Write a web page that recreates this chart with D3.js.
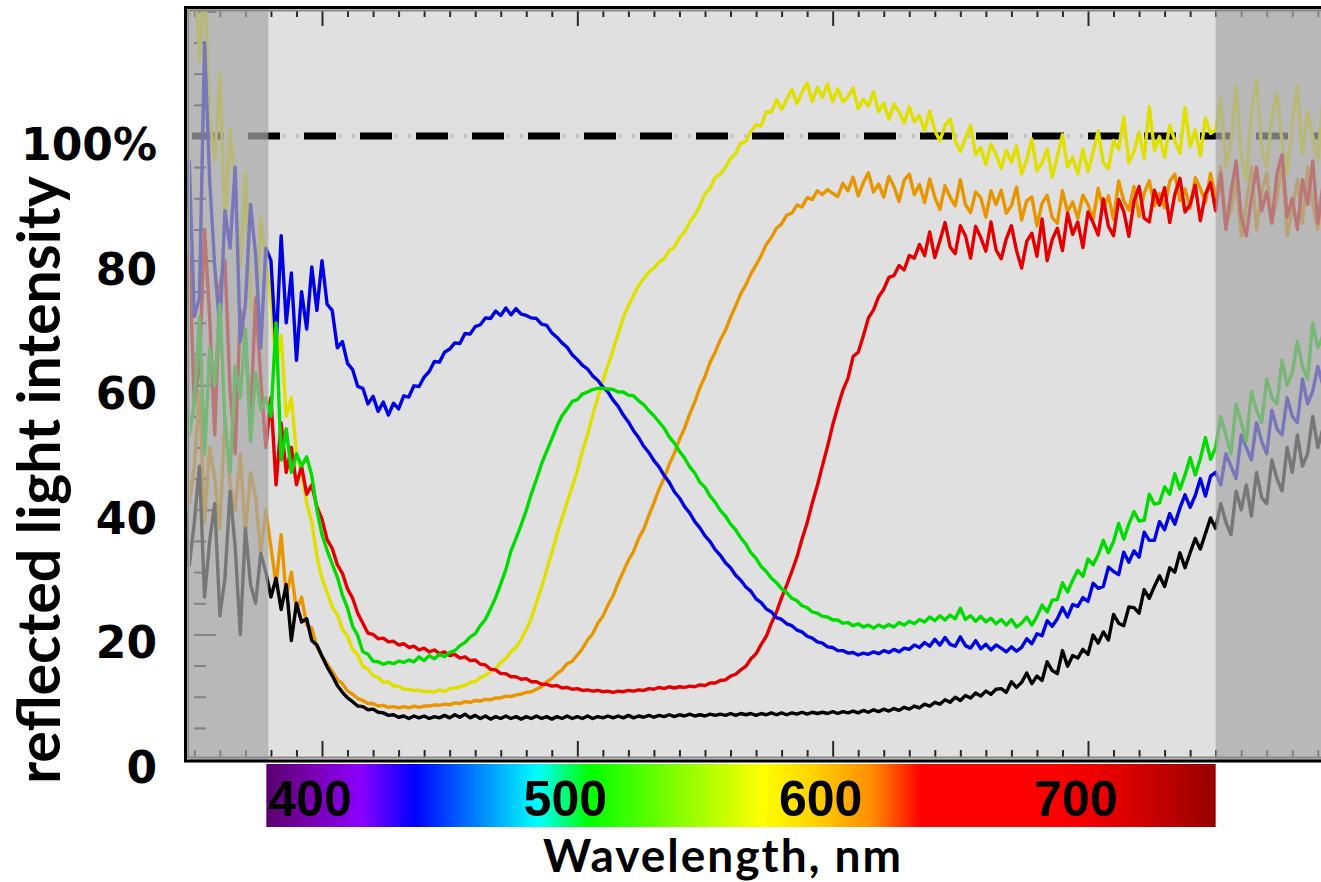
<!DOCTYPE html>
<html>
<head>
<meta charset="utf-8">
<script src="https://cdn.jsdelivr.net/npm/d3@7"></script>
<style>
  html, body { margin: 0; padding: 0; background: #fff; }
  svg { display: block; }
</style>
</head>
<body>
<div id="chart"></div>
<script>
// sampled every 2 nm from 346 to 792 nm (224 samples per series)
var wavelengths = d3.range(346, 793, 2);

var blue = [
  84,96,71,74,115,93,79,69,88,82,95,67,73,89,81,66,
  82,80,66,84,70,78,64,75,69,79,72,80,73,72,66,67,
  63.5,62.5,59.8,59.5,57,58.2,55.8,57.3,55.2,57.1,56.2,58.3,58.1,59.9,59.8,61.3,
  62.2,63.8,63.7,65.3,65.8,66.8,66.7,68.3,68.2,69.4,69.7,70.8,70.7,71.9,71.2,72.4,
  71.3,72.3,71.4,71.2,70.8,70.7,69.8,69.6,68.4,67.7,66.8,66.1,64.9,64.1,63.2,62.6,
  61.5,60.8,59.7,58.9,57.6,56.6,55.2,54.1,52.7,51.6,50.2,49.2,47.9,46.9,45.5,44.4,
  42.9,41.9,40.5,39.5,38.1,37.1,35.8,34.9,33.6,32.7,31.5,30.7,29.5,28.7,27.6,26.9,
  25.7,25.1,24.1,23.6,22.7,22.4,21.7,21.4,20.7,20.4,19.7,19.4,18.8,18.6,18,17.9,
  17.4,17.4,17,17.1,16.7,17,16.8,17.2,16.9,17.4,17.1,17.6,17.2,17.8,17.6,18.3,
  17.9,18.7,18.1,19.2,18.3,19.5,18.4,18.1,19.6,18.2,17.8,19,17.7,18.4,17.5,18.3,
  17.8,17.2,18,17.3,17.9,19.3,18.5,20.1,19.8,22.2,21.3,22.5,24.3,22.8,24.8,24.5,
  25.9,25.3,28.2,27.4,27.7,30.8,30.1,29.6,33.2,31.6,33.4,32.4,36.4,35.1,35.1,38.1,
  36.8,39.4,37.7,40.3,42.4,40.4,42.3,45,42.2,45.4,46,44,49,47,45,52,
  50,48,54,51,49,56,53,52,58,55,54,61,57,59,63,60
];

var green = [
  64,52,57,71,49,66,60,73,54,46,63,58,69,51,62,56,
  58,55,70,48,53,46,49,47,48.5,45.5,40,36,33.5,31.3,29.2,26.3,
  24.2,21.3,19.8,17.2,16.8,15.7,15.6,15.2,15.5,15.3,15.7,15.5,15.9,15.6,16.4,15.8,
  16.6,16.1,16.8,16.4,17.1,17.4,18.2,18.7,19.6,20.1,21.4,22.4,24.1,25.9,28.1,30.4,
  33.4,35.4,37.6,39.9,42.6,44.9,47.4,49.4,51.4,53.4,55.1,56.2,57.4,57.7,58.6,58.9,
  59.3,59.5,59.5,59.4,59.3,58.9,58.9,58.4,58.3,57.5,56.9,55.9,55.1,54.1,53.1,51.7,
  50.7,49.4,48.3,46.9,45.9,44.4,43.6,42.2,41.2,39.9,39,37.7,36.8,35.5,34.5,33.1,
  32.2,30.9,30.1,29,28.3,27.3,26.7,25.8,25.4,24.6,24.3,23.6,23.4,22.9,22.8,22.3,
  22.3,21.8,21.9,21.4,21.7,21.2,21.5,21,21.5,21.1,21.6,21.2,21.9,21.5,22.1,21.7,
  22.4,22,22.8,22.2,23,22.3,23.1,22.5,24.2,22.4,23,22.1,22.9,22,22.6,21.7,
  22.4,21.5,22.4,21.2,21.8,22.8,21.5,22.9,24.7,23.6,25.5,25.6,28.3,26.8,28.7,30.3,
  29.3,32.1,31.2,32.8,35.1,33.1,34.9,37.8,35.3,37.7,39.7,38.2,38.3,42.5,40.9,41.1,
  43.7,42.5,45.8,43.3,45.6,48.4,45.6,48.2,51.6,48.1,50,55,52,49,57,54,
  51,59,56,54,61,58,57,64,60,62,67,63,61,70,66,68
];

var yellow = [
  125,119,128,112,126,103,96,110,86,101,92,79,94,73,70,87,
  80,74,63,68,55,58,49,46,41,38,32.5,29,26.8,24.4,23.2,20.8,
  19.7,17.6,16.7,14.9,14.4,13.4,13.1,12.3,12.4,11.7,11.7,11.2,11.2,11,11,10.8,
  10.9,10.7,11.1,10.8,11.3,11.4,11.6,11.8,12.3,12.4,13.1,13.4,14.1,14.5,15.5,16.1,
  17.2,17.9,19.2,20.8,22.6,25.2,27.6,30.4,33.1,36,38.6,41.3,43.7,46.3,49.4,52.1,
  55.2,58,60.8,63.2,65.6,68.3,70.9,72.8,74.4,76,77.1,78.2,78.8,79.8,80.3,81.6,
  82.2,83.7,84.6,86.2,87.3,88.8,90.7,91.6,93.4,93.9,95,96.4,97.2,98.9,99.1,100.8,
  101.8,101.6,103.9,103.8,105.8,104.3,105.9,107.5,105.2,107,108.5,105.5,107.8,106.2,108.4,105.5,
  107.6,105.5,106.3,107.7,104.4,105.9,104.8,107.1,103.9,105.3,102.7,105.1,103.9,102.1,104.7,102.3,
  103.3,100.8,104,100.9,99.2,101.7,102.7,99.2,97.5,99.7,101.7,97,98.2,95.4,98.7,97,
  94.8,97.7,95.8,98.4,93.9,96.2,99.5,94.4,95.7,97.9,93.4,96.8,100.2,95,96.6,93.9,
  97.9,94.3,97.4,100.8,95.7,94.8,99.3,97.9,103.1,95.7,97.5,100.6,96.4,104.7,97.7,99.9,
  96.6,101.7,99.3,97.2,104.6,98.3,101,96.8,102.9,100.4,101,106,95,99,108,97,
  93,104,109,98,95,103,107,99,94,102,108,97,104,100,96,106
];

var orange = [
  54,41,47,59,38,50,45,37,55,44,40,49,36,46,42,33,
  40,34,28,36,26,30,24,26,21.5,21,18,16.5,15.3,14.1,12.7,12.1,
  10.9,10.4,9.7,9.4,8.9,8.9,8.5,8.6,8.3,8.4,8.2,8.4,8.2,8.5,8.3,8.5,
  8.5,8.7,8.6,8.8,8.7,9,8.9,9.2,9.1,9.4,9.3,9.6,9.5,9.8,9.8,10.1,
  10,10.3,10.4,10.7,10.8,11.2,11.6,12.4,12.9,13.7,14.3,15.3,15.7,16.7,17.7,19.1,
  20.1,21.8,22.9,24.7,26.2,28.3,30.1,31.9,33.3,35.4,36.9,39.1,41.1,43.3,45.1,47.3,
  49.1,51.3,53.1,55.4,57.3,59.6,61.4,63.7,65.3,67.3,68.8,70.9,72.7,74.7,76.1,77.9,
  79.3,80.8,82.6,83.7,85.2,85.9,87.3,87.6,88.9,88.6,90.1,89.8,91.2,90.6,91.4,90.8,
  90.3,92.4,91.2,93.4,90.4,92.5,94.1,91,92.3,90.2,93.5,91.9,89.5,92.9,93.9,90.6,
  92.2,89.3,93.1,90.2,88.2,92,90.2,88.8,93,89,87.7,91,90.1,87,91.2,89,
  91.3,87.6,88.8,91.8,86.5,89.6,90.2,85.6,89.2,90.5,86.9,86,91.2,87.8,89.4,86.8,
  90.5,89,86.6,91.6,88.3,90.4,86.6,92.8,89.6,88.1,91.9,87.1,90.8,92.8,88.8,90.8,
  88.5,92.7,93.9,89.6,91.5,88.4,93.3,91.6,89.3,94,90,95,86,88,93,84,
  89,95,85,91,94,86,90,96,84,88,93,86,95,89,85,92
];

var red = [
  68,81,57,63,85,71,52,76,80,59,49,72,67,54,74,61,
  50,58,44,54,46,50,44,47,42.5,44,40.5,38.5,35.2,33.8,31.2,29.8,
  27.3,25.8,23.4,21.8,20.2,20,19.3,19.4,18.8,18.9,18.3,18.5,17.9,18.1,17.5,17.8,
  17.2,17.5,16.9,17.2,16.6,16.8,16.2,16.4,15.8,15.9,15.2,15.1,14.4,14.3,13.7,13.7,
  13.2,13.2,12.8,12.9,12.4,12.4,12,12,11.7,11.8,11.4,11.5,11.2,11.3,11,11.1,
  10.9,11,10.8,10.9,10.7,10.9,10.8,11,10.9,11.1,11,11.3,11.2,11.5,11.3,11.6,
  11.4,11.6,11.5,11.7,11.6,11.9,11.8,12.2,12.2,12.6,12.7,13.3,13.6,14.3,14.9,16.1,
  16.9,18.4,19.7,21.8,23.6,25.9,27.9,30.1,32.4,35.3,37.9,41.1,43.9,47.1,50.2,53.6,
  56.5,59.2,61.1,64.6,65.3,67.9,70.8,72.1,74.2,75.4,77.3,77.6,79.2,78.5,80.8,80.4,
  82.6,80.8,84.6,80.5,83.2,86.1,82.2,81.1,85.6,84,80.4,85.5,83.7,81.5,86.2,81.7,
  80.3,83.5,85.6,81.6,78.8,83.1,84.4,80.7,86.7,80,83.4,85.2,81.6,87.6,84.2,86.2,
  82.1,87.8,86.1,84.1,89.9,85.5,84,89.8,87.9,83.9,89.5,91.9,86.8,86.2,91.3,88.9,
  91.7,86.1,90.6,93.2,87.8,89,92.1,86.4,90.7,92.5,88,94,85,91,96,87,
  84,90,95,88,91,86,94,97,87,90,85,93,89,96,86,92
];

var black = [
  44,31,38,47,26,35,41,23,29,43,34,20,37,28,25,33,
  30,26,29,24,28,19,25,22,22.5,19,18.3,16.5,14.8,13.4,11.8,10.7,
  9.8,9.2,8.5,8.4,7.9,8,7.5,7.4,7,7.1,6.7,6.9,6.5,6.9,6.6,6.9,
  6.5,6.8,6.6,7,6.6,7.1,6.7,7.2,6.6,7,6.5,6.9,6.4,6.8,6.5,6.9,
  6.5,6.8,6.4,6.8,6.5,6.9,6.5,6.8,6.4,6.8,6.5,6.9,6.5,6.8,6.5,6.9,
  6.5,6.8,6.6,6.9,6.6,6.9,6.6,7,6.6,6.9,6.7,7,6.7,7,6.8,7.1,
  6.8,7.1,6.9,7.2,6.9,7.1,6.9,7.2,7,7.2,7,7.3,7,7.3,7.1,7.3,
  7,7.3,7.1,7.4,7.1,7.4,7.1,7.4,7.2,7.5,7.2,7.5,7.3,7.5,7.3,7.6,
  7.3,7.6,7.4,7.7,7.4,7.8,7.5,7.9,7.6,8,7.7,8.1,7.8,8.3,8,8.5,
  8.2,8.8,8.5,9.1,8.8,9.5,9.1,9.9,9.4,10.2,9.8,10.6,10.1,10.9,10.4,11.2,
  11.3,10.7,12.4,11.5,12.3,13.8,12.1,13.3,12.6,15.6,14.2,13.7,17.4,14.9,16.6,16.2,
  17.6,16.8,19.9,18.6,20.4,19.1,23.2,21.8,21.4,24.4,24.3,23.4,27.2,25.8,27.7,29.4,
  27.7,30.7,30,33.1,30.7,33.1,35.4,33.7,36.2,38.7,37,41,38,36,43,40,
  44,39,46,42,41,48,45,43,50,46,52,47,49,55,50,53
];

var yTicks = [0, 20, 40, 60, 80, 100];
var yTickLabels = ["0", "20", "40", "60", "80", "100%"];
var bandLabels = [400, 500, 600, 700];

// drawing order (first is underneath)
var series = [
  {name: "yellow", color: "#e0e000", values: yellow},
  {name: "orange", color: "#e89600", values: orange},
  {name: "red",    color: "#e40000", values: red},
  {name: "black",  color: "#000000", values: black},
  {name: "blue",   color: "#0000e4", values: blue},
  {name: "green",  color: "#00dc00", values: green}
];

var width = 1321, height = 882;
var pLeft = 186, pTop = 8, pRight = 1335, pBottom = 760;

var x = d3.scaleLinear().domain([400, 700]).range([322, 1088]);
var y = d3.scaleLinear().domain([0, 100]).range([759, 136]);

var svg = d3.select("#chart").append("svg")
    .attr("width", width)
    .attr("height", height);

var defs = svg.append("defs");
defs.append("clipPath").attr("id", "plotclip")
  .append("rect")
    .attr("x", pLeft).attr("y", pTop)
    .attr("width", pRight - pLeft).attr("height", pBottom - pTop);

var grad = defs.append("linearGradient").attr("id", "spectrum")
    .attr("x1", "0%").attr("x2", "100%").attr("y1", "0%").attr("y2", "0%");
[[0, "#5a006e"], [0.05, "#7a00b4"], [0.10, "#8a00ff"], [0.156, "#0000ff"],
 [0.217, "#0078ff"], [0.286, "#00ffff"], [0.34, "#00ff00"], [0.43, "#80ff00"],
 [0.523, "#ffff00"], [0.577, "#ffd200"], [0.638, "#ff8c00"], [0.69, "#ff0000"],
 [0.83, "#ff0000"], [0.906, "#dc0000"], [1, "#960000"]].forEach(function(s) {
  grad.append("stop").attr("offset", s[0]).attr("stop-color", s[1]);
});

// plot background
svg.append("rect")
    .attr("x", pLeft).attr("y", pTop)
    .attr("width", pRight - pLeft).attr("height", pBottom - pTop)
    .attr("fill", "#e0e0e0");

// tick marks on the frame
function ticks(axis, values, size, tx, ty) {
  var g = svg.append("g")
      .attr("transform", "translate(" + tx + "," + ty + ")")
      .call(axis.tickValues(values).tickSize(size).tickFormat(""));
  g.select(".domain").remove();
  g.selectAll("line").attr("stroke", "#2a2a2a").attr("stroke-width", 2);
}
var xMinor = d3.range(350, 800, 10).filter(function(v) { return v % 100; });
var xMajor = [400, 500, 600, 700];
var yMinor = d3.range(5, 125, 5).filter(function(v) { return v % 20; });
var yMajor = [20, 40, 60, 80, 100, 120];

ticks(d3.axisTop(x), xMinor, 7, 0, pBottom - 3);
ticks(d3.axisTop(x), xMajor, 16, 0, pBottom - 3);
ticks(d3.axisBottom(x), xMinor, 7, 0, pTop + 2);
ticks(d3.axisBottom(x), xMajor, 16, 0, pTop + 2);
ticks(d3.axisRight(y), yMinor, 12, pLeft + 8, 0);
ticks(d3.axisRight(y), yMajor, 22, pLeft + 8, 0);

// 100% reference line
var ref = svg.append("g").attr("clip-path", "url(#plotclip)");
ref.append("line")
    .attr("x1", pLeft).attr("x2", pRight)
    .attr("y1", y(100)).attr("y2", y(100))
    .attr("stroke", "#c4c4c4").attr("stroke-width", 4)
    .attr("stroke-dasharray", "0,35,3,10,3,5")
    .attr("stroke-dashoffset", 50);
ref.append("line")
    .attr("x1", pLeft).attr("x2", pRight)
    .attr("y1", y(100)).attr("y2", y(100))
    .attr("stroke", "#000").attr("stroke-width", 7)
    .attr("stroke-dasharray", "32,24")
    .attr("stroke-dashoffset", 50);

// spectra
var line = d3.line()
    .x(function(d, i) { return x(wavelengths[i]); })
    .y(function(d) { return y(d); });

svg.append("g").attr("clip-path", "url(#plotclip)")
  .selectAll("path")
  .data(series)
  .enter().append("path")
    .attr("d", function(d) { return line(d.values); })
    .attr("fill", "none")
    .attr("stroke", function(d) { return d.color; })
    .attr("stroke-width", 3.4)
    .attr("stroke-linejoin", "round");

// shaded, unreliable ends of the spectrum
svg.append("rect")
    .attr("x", pLeft).attr("y", pTop)
    .attr("width", x(379) - pLeft).attr("height", pBottom - pTop)
    .attr("fill", "#a8a8a8").attr("fill-opacity", 0.71);
svg.append("rect")
    .attr("x", x(750)).attr("y", pTop)
    .attr("width", pRight - x(750)).attr("height", pBottom - pTop)
    .attr("fill", "#a8a8a8").attr("fill-opacity", 0.71);

// frame
svg.append("line")
    .attr("x1", pLeft + 3).attr("x2", pLeft + 3).attr("y1", pTop).attr("y2", pBottom)
    .attr("stroke", "#ececec").attr("stroke-width", 1.5);
svg.append("rect")
    .attr("x", pLeft + 2.5).attr("y", pTop + 2.5)
    .attr("width", pRight - pLeft).attr("height", pBottom - pTop - 5)
    .attr("fill", "none").attr("stroke", "#8a8a8a").attr("stroke-width", 2);
svg.append("rect")
    .attr("x", pLeft - 0.5).attr("y", pTop - 0.5)
    .attr("width", pRight - pLeft + 10).attr("height", pBottom - pTop + 1.5)
    .attr("fill", "none").attr("stroke", "#000").attr("stroke-width", 3);

// y labels
svg.selectAll(".ylab")
  .data(yTicks)
  .enter().append("text")
    .attr("class", "ylab")
    .attr("x", 157)
    .attr("y", function(d) { return y(d) + 24; })
    .attr("text-anchor", "end")
    .style("font-family", "'DejaVu Sans', sans-serif")
    .style("font-weight", "bold")
    .style("font-size", "44px")
    .text(function(d, i) { return yTickLabels[i]; });

svg.append("text")
    .attr("transform", "translate(60,480) rotate(-90)")
    .attr("text-anchor", "middle")
    .style("font-family", "Lato, sans-serif")
    .style("font-weight", "bold")
    .style("font-size", "59px")
    .text("reflected light intensity");

// colour band with wavelength labels
svg.append("rect")
    .attr("x", x(378.2)).attr("y", 764)
    .attr("width", x(750) - x(378.2)).attr("height", 63)
    .attr("fill", "url(#spectrum)");

svg.selectAll(".blab")
  .data(bandLabels)
  .enter().append("text")
    .attr("class", "blab")
    .attr("x", function(d) { return x(d) - 12; })
    .attr("y", 816)
    .attr("text-anchor", "middle")
    .style("font-family", "'Liberation Sans', Arial, sans-serif")
    .style("font-weight", "bold")
    .style("font-size", "50px")
    .text(function(d) { return d; });

svg.append("text")
    .attr("x", 723)
    .attr("y", 872)
    .attr("text-anchor", "middle")
    .style("font-family", "Lato, sans-serif")
    .style("font-weight", "bold")
    .style("font-size", "46px")
    .style("letter-spacing", "2px")
    .text("Wavelength, nm");
</script>
</body>
</html>
